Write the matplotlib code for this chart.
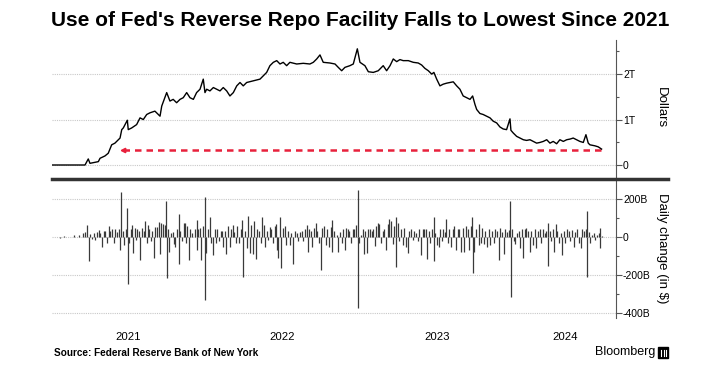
import matplotlib.pyplot as plt
from matplotlib.lines import Line2D
from matplotlib.patches import Rectangle
import numpy as np

plt.rcParams['font.family'] = ['Liberation Sans', 'DejaVu Sans']

# Reverse repo usage, billions of dollars (t = years after 1 Jan 2021)
rrp_t = [0.011, 0.226, 0.247, 0.258, 0.312, 0.323, 0.355, 0.376, 0.398, 0.419,
         0.441, 0.452, 0.463, 0.473, 0.499, 0.505, 0.527, 0.559, 0.581, 0.602,
         0.624, 0.645, 0.677, 0.710, 0.721, 0.753, 0.774, 0.795, 0.817, 0.839,
         0.860, 0.882, 0.903, 0.925, 0.946, 0.968, 0.989, 1.000, 1.011, 1.032,
         1.054, 1.075, 1.097, 1.118, 1.140, 1.161, 1.183, 1.205, 1.226, 1.247,
         1.269, 1.312, 1.355, 1.398, 1.419, 1.441, 1.463, 1.484, 1.505, 1.527,
         1.548, 1.592, 1.634, 1.677, 1.699, 1.721, 1.742, 1.763, 1.806, 1.839,
         1.860, 1.882, 1.903, 1.935, 1.957, 1.983, 2.000, 2.032, 2.054, 2.086,
         2.118, 2.150, 2.172, 2.194, 2.215, 2.237, 2.258, 2.279, 2.312, 2.344,
         2.376, 2.398, 2.419, 2.441, 2.463, 2.477, 2.495, 2.516, 2.537, 2.559,
         2.581, 2.602, 2.624, 2.645, 2.666, 2.688, 2.710, 2.727, 2.742, 2.753,
         2.774, 2.795, 2.817, 2.839, 2.860, 2.882, 2.903, 2.924, 2.946, 2.968,
         2.974, 2.989, 3.011, 3.032, 3.054, 3.075, 3.097, 3.118, 3.140, 3.161,
         3.183, 3.205, 3.226, 3.247, 3.269, 3.290, 3.312, 3.334, 3.355, 3.376,
         3.398, 3.419, 3.441, 3.458, 3.473, 3.484, 3.516, 3.537, 3.559]
rrp_bn = [0, 0, 133, 37, 74, 148, 200, 259, 444, 481,
          556, 593, 778, 815, 985, 778, 815, 889, 1037, 1000,
          1111, 1148, 1185, 1074, 1296, 1593, 1407, 1444, 1370, 1444,
          1481, 1593, 1481, 1444, 1593, 1667, 1889, 1593, 1667, 1630,
          1704, 1667, 1630, 1704, 1630, 1519, 1593, 1741, 1815, 1741,
          1815, 1852, 1889, 2037, 2185, 2259, 2296, 2222, 2259, 2185,
          2259, 2222, 2237, 2222, 2259, 2333, 2422, 2259, 2244, 2222,
          2148, 2074, 2148, 2185, 2222, 2556, 2259, 2185, 2052, 2037,
          2074, 2185, 2074, 2185, 2333, 2274, 2319, 2296, 2296, 2259,
          2244, 2200, 2126, 2074, 2000, 2037, 1889, 1741, 1778, 1800,
          1815, 1830, 1741, 1667, 1519, 1481, 1444, 1519, 1333, 1222,
          1133, 1111, 1074, 1037, 963, 926, 837, 793, 778, 1015,
          763, 704, 630, 593, 556, 541, 556, 519, 481, 496,
          519, 556, 481, 519, 467, 556, 519, 556, 570, 593,
          556, 519, 496, 667, 481, 444, 422, 400, 350]

# Daily change, billions of dollars
chg_t = [0.034, 0.067, 0.088, 0.120, 0.153, 0.185, 0.211, 0.228, 0.241, 0.252,
         0.260, 0.271, 0.282, 0.292, 0.303, 0.314, 0.325, 0.335, 0.346, 0.357,
         0.368, 0.378, 0.389, 0.400, 0.411, 0.421, 0.432, 0.443, 0.452, 0.460,
         0.469, 0.479, 0.490, 0.499, 0.502, 0.512, 0.520, 0.529, 0.538, 0.546,
         0.555, 0.563, 0.572, 0.583, 0.594, 0.604, 0.615, 0.624, 0.632, 0.641,
         0.652, 0.658, 0.669, 0.680, 0.690, 0.701, 0.710, 0.718, 0.729, 0.740,
         0.751, 0.754, 0.761, 0.770, 0.778, 0.791, 0.800, 0.809, 0.819, 0.830,
         0.833, 0.841, 0.852, 0.862, 0.873, 0.876, 0.884, 0.895, 0.905, 0.916,
         0.935, 0.946, 0.949, 0.957, 0.968, 0.976, 0.987, 0.998, 1.001, 1.009,
         1.019, 1.030, 1.041, 1.052, 1.062, 1.073, 1.080, 1.090, 1.101, 1.112,
         1.118, 1.127, 1.138, 1.151, 1.159, 1.170, 1.179, 1.189, 1.200, 1.209,
         1.219, 1.230, 1.241, 1.247, 1.258, 1.269, 1.280, 1.290, 1.299, 1.308,
         1.316, 1.327, 1.338, 1.348, 1.359, 1.370, 1.381, 1.387, 1.398, 1.406,
         1.417, 1.428, 1.439, 1.449, 1.460, 1.463, 1.471, 1.482, 1.492, 1.503,
         1.514, 1.525, 1.535, 1.546, 1.557, 1.570, 1.578, 1.591, 1.602, 1.613,
         1.624, 1.634, 1.645, 1.656, 1.662, 1.673, 1.682, 1.692, 1.703, 1.714,
         1.725, 1.735, 1.746, 1.757, 1.768, 1.778, 1.789, 1.800, 1.811, 1.819,
         1.822, 1.832,
         1.851, 1.860, 1.871, 1.882, 1.892, 1.903, 1.910, 1.920, 1.931, 1.942,
         1.953, 1.963, 1.974, 1.985, 1.988, 1.996, 2.006, 2.017, 2.028, 2.034,
         2.043, 2.054, 2.064, 2.075, 2.086, 2.097, 2.105, 2.114, 2.125, 2.135,
         2.146, 2.157, 2.168, 2.178, 2.189, 2.200, 2.211, 2.221, 2.230, 2.233,
         2.243, 2.254, 2.264, 2.275, 2.286, 2.297, 2.307, 2.318, 2.329, 2.340,
         2.350, 2.361, 2.372, 2.383, 2.393, 2.404, 2.415, 2.426, 2.434, 2.443,
         2.454, 2.464, 2.475, 2.478, 2.486, 2.497, 2.507, 2.516, 2.527, 2.538,
         2.546, 2.555, 2.565, 2.576, 2.587, 2.598, 2.608, 2.619, 2.630, 2.641,
         2.652, 2.662, 2.673, 2.684, 2.695, 2.705, 2.716, 2.725, 2.728, 2.738,
         2.748,
         2.768, 2.771, 2.778, 2.787, 2.798, 2.808, 2.819, 2.830, 2.841, 2.851,
         2.862, 2.873, 2.884, 2.894, 2.905, 2.916, 2.927, 2.937, 2.948, 2.959,
         2.970, 2.973, 2.980, 2.991, 3.002, 3.013, 3.023, 3.034, 3.045, 3.054,
         3.062, 3.073, 3.084, 3.094, 3.105, 3.116, 3.127, 3.137, 3.148, 3.159,
         3.170, 3.180, 3.191, 3.202, 3.213, 3.216, 3.223, 3.234, 3.245, 3.254,
         3.262, 3.273, 3.284, 3.294, 3.303, 3.314, 3.324, 3.335, 3.346, 3.357,
         3.368, 3.378, 3.389, 3.402, 3.413, 3.423, 3.434, 3.445, 3.456, 3.462,
         3.465, 3.475, 3.486, 3.497, 3.507, 3.518, 3.529, 3.540, 3.548, 3.551,
         3.561]
chg_bn = [2, -3, 3, -2, 9, 13, 22, 25, 63, -126,
          18, -11, 22, -18, 25, 36, 22, -50, 34, 31,
          -29, 58, 31, 43, -32, 40, 27, 40, -68, 238,
          34, -41, 40, 151, -248, -32, 40, 61, -86, 49,
          -14, 40, 31, -119, 49, 31, 85, -32, 63, 40,
          -23, 31, -108, 52, 54, 79, -90, 76, 67, 61,
          189, -218, 40, -77, 22, 25, -36, -50, 40, 121,
          -144, 31, -23, 76, 72, -29, 58, -122, 40, 22,
          40, 90, -68, 40, 49, -122, 58, 211, -329, -86,
          40, 103, -32, -92, 40, -29, 43, -23, 34, 31,
          -54, 31, -90, 58, -50, 40, 63, 25, -32, 58,
          -32, 40, 88, -209, 31, -59, 112, -86, 61, -90,
          85, -113, 40, 31, -32, 103, 61, -50, 31, -14,
          52, 40, -29, 58, 67, -68, -108, 103, -164, 49,
          58, -41, 31, -41, 22, -140, 31, 22, -23, 25,
          34, -23, 40, 61, -77, 40, 31, -50, 49, 76,
          31, -32, -176, 49, 58, -41, 40, -50, 54, 90,
          -77, 31,
          13, -77, 25, -32, 40, -68, 49, 40, 31, -29,
          43, 40, 61, 247, -371, -29, 13, 40, -90, 31,
          -86, 40, 43, 31, 40, -47, 58, 76, 67, -32,
          31, 40, -68, 67, 94, 85, -36, 58, 103, -158,
          76, -23, 40, -41, 49, -54, -86, 31, 40, -18,
          31, 22, -23, 43, -95, 40, 43, 40, -113, 31,
          -32, 43, 103, -126, 22, -41, -50, 40, -23, 43,
          25, 94, -32, 40, -54, 43, 58, -68, 40, 43,
          -77, 49, -77, 58, 40, -68, 58, 106, -191, -77,
          40,
          67, -41, -32, 49, -36, 31, -50, 40, -41, 31,
          -32, 40, 31, -119, 49, 25, -90, 40, 25, 36,
          187, -315, 40, -23, -36, 22, 31, -59, 40, -108,
          40, 49, 31, -77, 31, -41, 43, -59, 31, 43,
          -29, 40, 22, 31, 76, -153, 31, -23, 40, -77,
          70, 31, -32, 22, -95, 31, -32, 40, 31, -23,
          36, -50, 25, 40, -29, -59, 40, 31, 40, 135,
          -212, 25, -32, 13, 22, -14, 13, 22, 49, -59,
          4]

# dashed "lowest since" marker: from, to (years after 2021) and level in billions
low_from, low_to, low_level = 0.470, 3.559, 320

years = [2021, 2022, 2023, 2024]
x_min, x_max = 2021.013, 2024.652

fig = plt.figure(figsize=(7.28, 3.73), dpi=100)
W, H = 728, 373
ax1 = fig.add_axes([52 / W, 1 - 178 / H, 564 / W, 138 / H])
ax2 = fig.add_axes([52 / W, 1 - 318 / H, 564 / W, 138 / H])

red = '#e8213c'
ax1.plot(2021 + np.array(rrp_t), rrp_bn, color='black', lw=1.0, zorder=3)
ax1.plot([2021 + low_from, 2021 + low_to], [low_level, low_level], color=red,
         lw=1.8, dashes=(2.6, 2.0), zorder=2)
ax1.plot([2021 + low_from], [low_level], marker='<', color=red, ms=3.2, zorder=2)

ax2.vlines(2021 + np.array(chg_t), 0, chg_bn, color='#3a3a3a', lw=0.9)

ax1.set_ylim(-286, 2750)
ax1.set_yticks([0, 1000, 2000], ['0', '1T', '2T'])
ax1.set_yticks([500, 1500, 2500], minor=True)
ax2.set_ylim(-426, 300)
ax2.set_yticks([-400, -200, 0, 200], ['-400B', '-200B', '0', '200B'])
ax2.set_yticks([-300, -100, 100], minor=True)

mids = [(max(y, x_min) + min(y + 1, x_max)) / 2 for y in years]
ax2.set_xticks(mids, [str(y) for y in years])
ax1.set_xticks([])

for ax in (ax1, ax2):
    ax.set_xlim(x_min, x_max)
    for s in ('top', 'left', 'bottom'):
        ax.spines[s].set_visible(False)
    ax.spines['right'].set_color('#555555')
    ax.spines['right'].set_linewidth(0.8)
    ax.yaxis.tick_right()
    ax.tick_params(axis='y', which='major', length=4, width=0.8, color='#555555',
                   labelsize=7.5, pad=1)
    ax.tick_params(axis='y', which='minor', length=2, width=0.8, color='#555555')
    ax.grid(axis='y', which='major', color='#c8c8c8', lw=0.8, ls=(0, (1, 1)))
    ax.set_axisbelow(True)
ax2.tick_params(axis='x', length=0, labelsize=8.2, pad=10)

fig.add_artist(Line2D([52 / W, 668 / W], [1 - 179 / H] * 2, color='#333333', lw=2.5))

fig.text(661 / W, 1 - 108 / H, 'Dollars', rotation=270, ha='center', va='center', fontsize=9.5)
fig.text(662 / W, 1 - 248 / H, 'Daily change (in $)', rotation=270, ha='center',
         va='center', fontsize=9.5)

fig.text(360 / W, 1 - 21 / H, "Use of Fed's Reverse Repo Facility Falls to Lowest Since 2021",
         ha='center', va='center', fontsize=15, fontweight='bold')
fig.text(54 / W, 1 - 353 / H, 'Source: Federal Reserve Bank of New York', ha='left',
         va='center', fontsize=7.2, fontweight='bold')
fig.text(655 / W, 1 - 352 / H, 'Bloomberg', ha='right', va='center', fontsize=9)
fig.add_artist(Rectangle((658 / W, 1 - 358 / H), 10 / W, 11 / H, color='black'))
for bx in (661, 663.5, 666):
    fig.add_artist(Line2D([bx / W] * 2, [1 - 356 / H, 1 - 350 / H], color='white', lw=0.8))

fig.savefig('out.png', dpi=100)
